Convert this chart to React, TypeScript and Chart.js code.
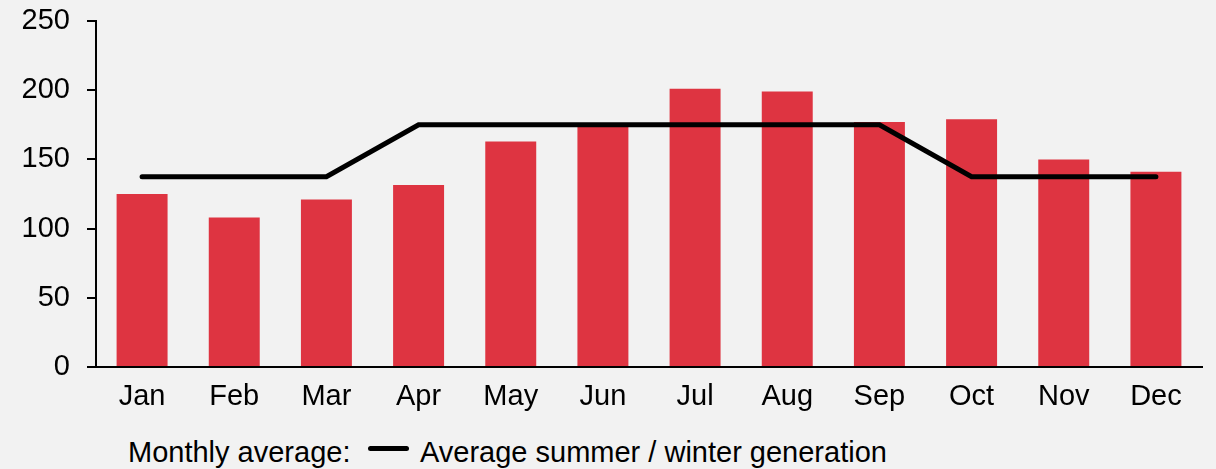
import React, { useEffect, useRef } from "react";
import { Chart, registerables } from "chart.js";

Chart.register(...registerables);

const months = ["Jan", "Feb", "Mar", "Apr", "May", "Jun", "Jul", "Aug", "Sep", "Oct", "Nov", "Dec"];
const monthlyAverage = [125, 108, 121, 131.5, 163, 175, 201, 199, 177, 179, 150, 141];
const seasonalAverage = [137.5, 137.5, 137.5, 175, 175, 175, 175, 175, 175, 137.5, 137.5, 137.5];
const barLabel = "Monthly average:";
const lineLabel = "Average summer / winter generation";
const yMin = 0;
const yMax = 250;
const yStep = 50;

const FONT = "'Liberation Sans', Arial, sans-serif";
const BAR_COLOR = "#DE3441";

export default function App() {
  const canvasRef = useRef<HTMLCanvasElement | null>(null);

  useEffect(() => {
    document.body.style.background = "#f2f2f2";
    document.body.style.marginBottom = "0px";
    document.documentElement.style.background = "#f2f2f2";
    const canvas = canvasRef.current;
    if (!canvas) return;
    const chart = new Chart(canvas, {
      type: "bar",
      data: {
        labels: months,
        datasets: [
          {
            type: "line",
            label: lineLabel,
            data: seasonalAverage,
            borderColor: "#000000",
            backgroundColor: "#000000",
            borderWidth: 5,
            pointRadius: 0,
            pointHoverRadius: 0,
            tension: 0,
            borderCapStyle: "round",
            borderJoinStyle: "miter",
            fill: false,
            order: 1,
          } as any,
          {
            type: "bar",
            label: barLabel,
            data: monthlyAverage,
            backgroundColor: BAR_COLOR,
            borderWidth: 0,
            barPercentage: 0.553,
            categoryPercentage: 1,
            order: 2,
          },
        ],
      },
      options: {
        animation: false,
        responsive: true,
        maintainAspectRatio: false,
        layout: { padding: { left: 0, right: 6, top: 0, bottom: 0 } },
        plugins: {
          legend: { display: false },
          tooltip: { enabled: false },
        },
        scales: {
          x: {
            grid: { display: false },
            border: { display: true, color: "#000000", width: 2 },
            ticks: {
              color: "#000000",
              font: { family: FONT, size: 29 },
              padding: 5,
              maxRotation: 0,
            },
            afterFit: (scale: any) => {
              scale.height = 61;
            },
          },
          y: {
            min: yMin,
            max: yMax,
            grid: {
              drawOnChartArea: false,
              drawTicks: true,
              tickLength: 9,
              color: "#000000",
              lineWidth: 2,
            },
            border: { display: true, color: "#000000", width: 2 },
            ticks: {
              stepSize: yStep,
              color: "#000000",
              font: { family: FONT, size: 29, lineHeight: 0.9 },
              padding: 17,
            },
            afterFit: (scale: any) => {
              scale.width = 88;
              scale.paddingTop = 13;
              scale.paddingBottom = 0;
            },
          },
        },
      },
    });
    return () => chart.destroy();
  }, []);

  const textStyle: React.CSSProperties = {
    position: "absolute",
    top: 427,
    fontFamily: FONT,
    fontSize: 29,
    lineHeight: "34px",
    color: "#000000",
    whiteSpace: "nowrap",
  };

  return (
    <div style={{ position: "relative", width: 1200, height: 461 }}>
      <div style={{ position: "absolute", left: 0, top: 0, width: 1200, height: 420 }}>
        <canvas ref={canvasRef} />
      </div>
      <span style={{ ...textStyle, left: 120 }}>{barLabel}</span>
      <span
        style={{
          position: "absolute",
          left: 360,
          top: 438,
          width: 41,
          height: 5,
          borderRadius: 3,
          background: "#000000",
        }}
      />
      <span style={{ ...textStyle, left: 412 }}>{lineLabel}</span>
    </div>
  );
}
